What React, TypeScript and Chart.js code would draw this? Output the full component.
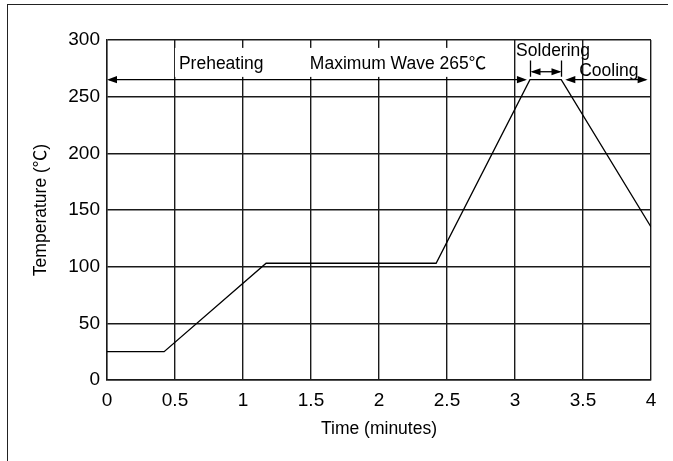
import React, { useEffect, useRef } from "react";
import { Chart, registerables } from "chart.js";

Chart.register(...registerables);

// Reflow soldering profile
const timeMinutes = [0, 0.42, 1.17, 2.42, 3.11, 3.34, 4];
const temperatureC = [25, 25, 103, 103, 265, 265, 135];

const xTickLabels = ["0", "0.5", "1", "1.5", "2", "2.5", "3", "3.5", "4"];
const yTickLabels = ["0", "50", "100", "150", "200", "250", "300"];

// Phase annotations (data units)
const phaseLabels = ["Preheating", "Maximum Wave 265℃", "Soldering", "Cooling"];
const phaseLabelX = [0.84, 2.14, 3.28, 3.69];
const phaseLabelY = [274.5, 274.5, 286, 268.5];
const phaseLabelBoxed = [true, true, false, false];

const arrowFrom = [0, 3.114, 3.37];
const arrowTo = [3.088, 3.342, 3.975];
const arrowLevel = [265, 272, 265];
const arrowEndBars = [false, true, false];
const endBarLow = 267.6;
const endBarHigh = 282;

const FONT_FAMILY = "'Liberation Sans', Arial, 'Noto Sans CJK SC', sans-serif";

function drawHead(ctx: CanvasRenderingContext2D, tipX: number, y: number, dir: number) {
  const len = 10;
  const half = 3.6;
  ctx.beginPath();
  ctx.moveTo(tipX, y);
  ctx.lineTo(tipX - dir * len, y - half);
  ctx.lineTo(tipX - dir * len, y + half);
  ctx.closePath();
  ctx.fill();
}

const annotationPlugin = {
  id: "phaseAnnotations",
  afterDatasetsDraw(chart: any) {
    const { ctx, scales } = chart;
    const xs = scales.x;
    const ys = scales.y;
    ctx.save();
    ctx.font = `17.5px ${FONT_FAMILY}`;
    ctx.textAlign = "center";
    ctx.textBaseline = "alphabetic";
    phaseLabels.forEach((t, i) => {
      const px = xs.getPixelForValue(phaseLabelX[i]);
      const py = ys.getPixelForValue(phaseLabelY[i]);
      const w = ctx.measureText(t).width;
      if (phaseLabelBoxed[i]) {
        ctx.fillStyle = "#fff";
        ctx.fillRect(px - w / 2 - 4, py - 21, w + 8, 29);
      }
      ctx.fillStyle = "#000";
      ctx.fillText(t, px, py);
    });

    ctx.strokeStyle = "#000";
    ctx.fillStyle = "#000";
    ctx.lineWidth = 1.3;
    arrowFrom.forEach((from, i) => {
      const x1 = xs.getPixelForValue(from);
      const x2 = xs.getPixelForValue(arrowTo[i]);
      const y = ys.getPixelForValue(arrowLevel[i]);
      ctx.beginPath();
      ctx.moveTo(x1 + 2, y);
      ctx.lineTo(x2 - 2, y);
      ctx.stroke();
      drawHead(ctx, x1, y, -1);
      drawHead(ctx, x2, y, 1);
      if (arrowEndBars[i]) {
        const yl = ys.getPixelForValue(endBarLow);
        const yh = ys.getPixelForValue(endBarHigh);
        ctx.beginPath();
        ctx.moveTo(x1, yl);
        ctx.lineTo(x1, yh);
        ctx.moveTo(x2, yl);
        ctx.lineTo(x2, yh);
        ctx.stroke();
      }
    });
    ctx.restore();
  },
};

export default function App() {
  const canvasRef = useRef<HTMLCanvasElement | null>(null);

  useEffect(() => {
    document.body.style.margin = "0";
    const canvas = canvasRef.current;
    if (!canvas) return;
    const gridColor = "#1a1a1a";
    const tickFont = { family: FONT_FAMILY, size: 19 };
    const titleFont = { family: FONT_FAMILY, size: 17.5 };
    const chart = new Chart(canvas, {
      type: "line",
      data: {
        datasets: [
          {
            data: timeMinutes.map((t, i) => ({ x: t, y: temperatureC[i] })),
            borderColor: "#000",
            borderWidth: 1.3,
            pointRadius: 0,
            tension: 0,
            fill: false,
          },
        ],
      },
      options: {
        responsive: false,
        animation: false,
        layout: { padding: { top: 40, right: 22, left: 0, bottom: 0 } },
        plugins: {
          legend: { display: false },
          tooltip: { enabled: false },
        },
        scales: {
          x: {
            type: "linear",
            min: 0,
            max: 4,
            ticks: {
              stepSize: 0.5,
              autoSkip: false,
              maxRotation: 0,
              color: "#000",
              font: tickFont,
              padding: 9,
              callback: (_v: any, i: number) => xTickLabels[i],
            },
            grid: { color: gridColor, lineWidth: 1.4, drawTicks: false },
            border: { color: gridColor, width: 1.4 },
            title: {
              display: true,
              text: "Time (minutes)",
              color: "#000",
              font: titleFont,
              padding: { top: 0, bottom: 21.5 },
            },
            afterFit: (s: any) => {
              s.height = 81;
            },
          },
          y: {
            type: "linear",
            min: 0,
            max: 300,
            ticks: {
              stepSize: 50,
              color: "#000",
              font: tickFont,
              padding: 7,
              callback: (_v: any, i: number) => yTickLabels[i],
            },
            grid: { color: gridColor, lineWidth: 1.4, drawTicks: false },
            border: { color: gridColor, width: 1.4 },
            title: {
              display: true,
              text: "Temperature (℃)",
              color: "#000",
              font: titleFont,
              padding: { top: 30.5, bottom: 0 },
            },
            afterFit: (s: any) => {
              s.width = 107;
            },
          },
        },
      },
      plugins: [annotationPlugin],
    } as any);
    return () => chart.destroy();
  }, []);

  return (
    <div style={{ position: "relative", width: 673, height: 461, overflow: "hidden", background: "#fff" }}>
      <canvas ref={canvasRef} width={673} height={461} style={{ display: "block" }} />
      <div
        style={{
          position: "absolute",
          left: 7,
          top: 4,
          width: 661,
          height: 457,
          boxSizing: "border-box",
          borderTop: "1.5px solid #222",
          borderLeft: "1.5px solid #222",
          pointerEvents: "none",
        }}
      />
    </div>
  );
}
